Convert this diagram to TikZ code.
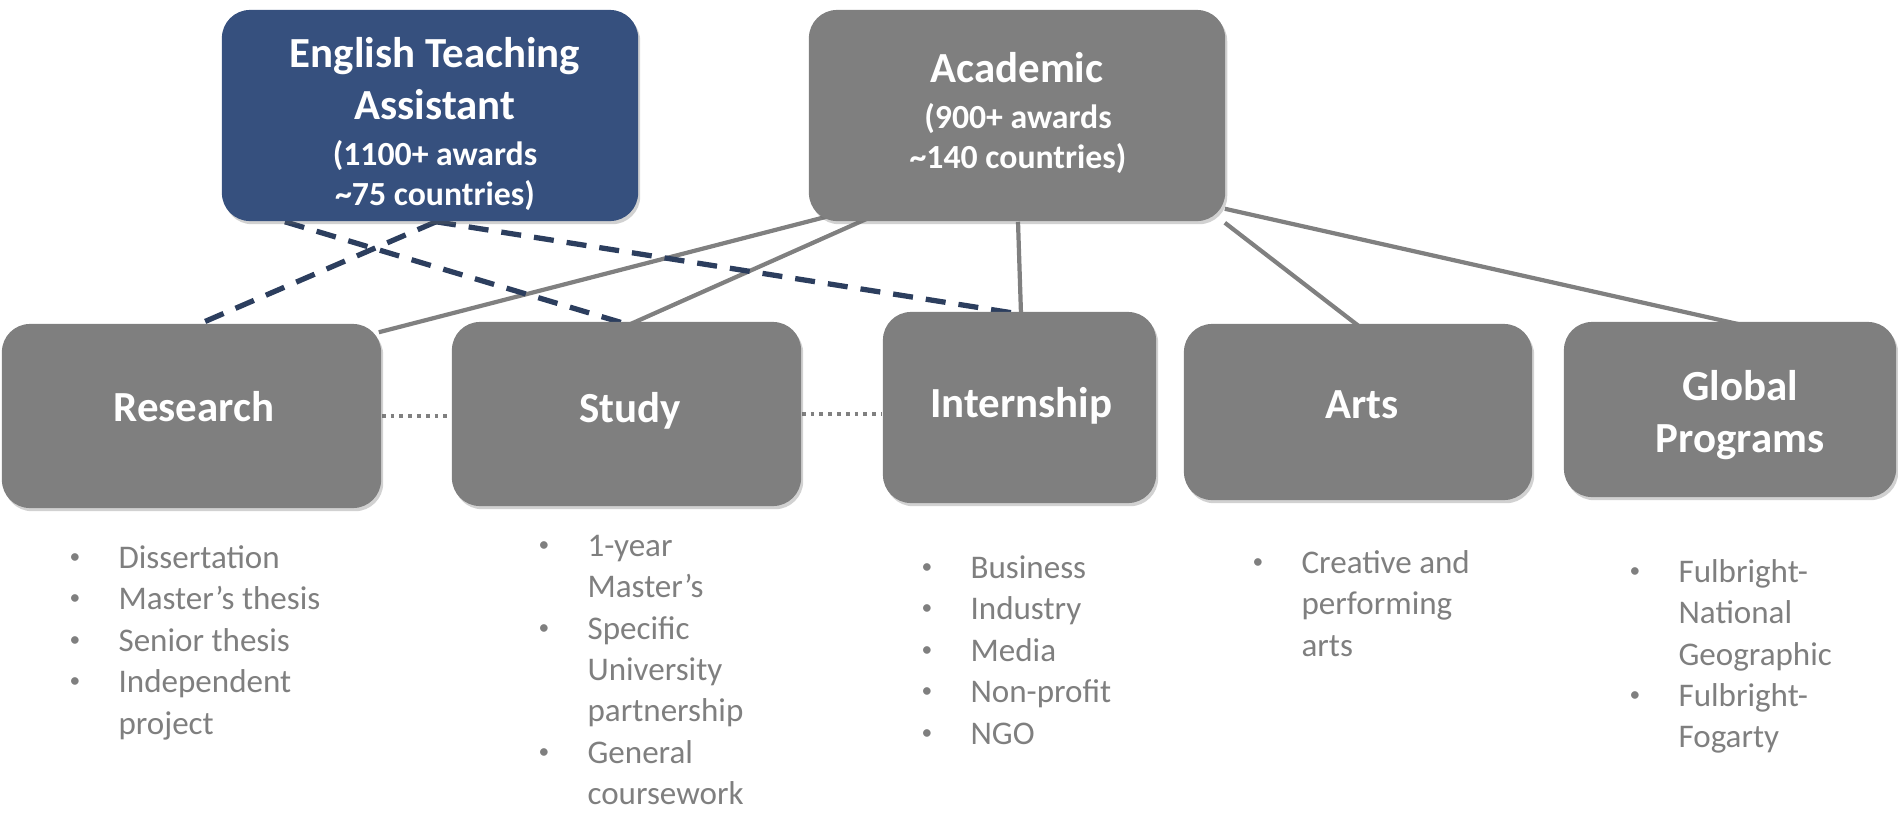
\documentclass[tikz,border=0pt]{standalone}
\usepackage{graphicx}
\usepackage{fontspec}
\setmainfont{Carlito}
\usetikzlibrary{backgrounds,shadows}
\definecolor{boxgray}{HTML}{7F7F7F}
\definecolor{etablue}{HTML}{36507E}
\definecolor{dashblue}{HTML}{2C3E5E}
\definecolor{listgray}{HTML}{7F7F7F}
\definecolor{linegray}{HTML}{808080}
\newcommand{\lsbul}{\makebox[13.9pt][l]{\raisebox{1.4pt}{\scalebox{0.65}{•}}}}
\newcommand{\lsind}{\hspace*{13.9pt}}
\tikzset{
  box/.style={rectangle, rounded corners=8pt, fill=boxgray, inner sep=0pt,
    drop shadow={shadow xshift=0.6pt, shadow yshift=-0.9pt, opacity=0.3, fill=black!60}},
  etabox/.style={box, fill=etablue},
  ttl/.style={text=white, inner sep=0pt, anchor=base, font=\bfseries\fontsize{12.2pt}{15pt}\selectfont},
  subtxt/.style={text=white, inner sep=0pt, anchor=base, font=\bfseries\fontsize{9.6pt}{11.4pt}\selectfont},
  lst/.style={text=listgray, inner sep=0pt, anchor=base west, font=\fontsize{9.4pt}{11.8pt}\selectfont},
  solidline/.style={draw=linegray, line width=1.2pt},
  dashline/.style={draw=dashblue, line width=1.5pt, dash pattern=on 5.7pt off 3.7pt},
  dotline/.style={draw=linegray, line width=1.2pt, dash pattern=on 1.1pt off 1.4pt},
}
\begin{document}
\begin{tikzpicture}[x=0.01cm,y=-0.01cm]
\useasboundingbox (0,0) rectangle (1898,812);
% boxes
\node[etabox, minimum width=4.16cm, minimum height=2.11cm] (eta) at (430,115.5) {};
\node[box, minimum width=4.16cm, minimum height=2.11cm] (acad) at (1017,115.5) {};
\node[box, minimum width=3.79cm, minimum height=1.84cm] (res) at (191.5,416) {};
\node[box, minimum width=3.49cm, minimum height=1.84cm] (stu) at (626.5,414) {};
\node[box, minimum width=2.73cm, minimum height=1.91cm] (int) at (1019.5,407.5) {};
\node[box, minimum width=3.48cm, minimum height=1.76cm] (arts) at (1358,412) {};
\node[box, minimum width=3.32cm, minimum height=1.75cm] (glob) at (1730,409.5) {};
% box texts
\node[ttl] (etat) at (435,67) {\begin{tabular}[t]{@{}c@{}}English Teaching\\Assistant\end{tabular}};
\node[subtxt] (etas) at (435,165) {\begin{tabular}[t]{@{}c@{}}(1100+ awards\\\textasciitilde75 countries)\end{tabular}};
\node[ttl] (acadt) at (1017,82) {Academic};
\node[subtxt] (acads) at (1018,128) {\begin{tabular}[t]{@{}c@{}}(900+ awards\\\textasciitilde140 countries)\end{tabular}};
\node[ttl] (rest) at (194,421) {Research};
\node[ttl] (stut) at (630,422) {Study};
\node[ttl] (intt) at (1021,417) {Internship};
\node[ttl] (artst) at (1362,418) {Arts};
\node[ttl] (globt) at (1740,400) {\begin{tabular}[t]{@{}c@{}}Global\\Programs\end{tabular}};
% lists
\node[lst] (lres) at (69,568) {\begin{tabular}[t]{@{}l@{}}\lsbul Dissertation\\\lsbul Master’s thesis\\\lsbul Senior thesis\\\lsbul Independent\\\lsind project\end{tabular}};
\node[lst] (lstu) at (538,556) {\begin{tabular}[t]{@{}l@{}}\lsbul 1-year\\\lsind Master’s\\\lsbul Specific\\\lsind University\\\lsind partnership\\\lsbul General\\\lsind coursework\end{tabular}};
\node[lst] (lint) at (921,578) {\begin{tabular}[t]{@{}l@{}}\lsbul Business\\\lsbul Industry\\\lsbul Media\\\lsbul Non-profit\\\lsbul NGO\end{tabular}};
\node[lst] (larts) at (1252,573) {\begin{tabular}[t]{@{}l@{}}\lsbul Creative and\\\lsind performing\\\lsind arts\end{tabular}};
\node[lst] (lglob) at (1629,582) {\begin{tabular}[t]{@{}l@{}}\lsbul Fulbright-\\\lsind National\\\lsind Geographic\\\lsbul Fulbright-\\\lsind Fogarty\end{tabular}};
% connectors
\begin{scope}[on background layer]
\draw[solidline] ([xshift=-1.75cm,yshift=0.09cm]acad.south) -- ([xshift=-0.03cm,yshift=-0.09cm]res.north east);
\draw[solidline] ([xshift=-1.5cm,yshift=0.03cm]acad.south) -- ([xshift=0.035cm,yshift=-0.03cm]stu.north);
\draw[solidline] ([xshift=0.01cm]acad.south) -- ([xshift=0.015cm,yshift=-0.03cm]int.north);
\draw[solidline] ([xshift=-0.01cm,yshift=-0.01cm]acad.south east) -- ([xshift=0.01cm,yshift=-0.03cm]arts.north);
\draw[solidline] ([xshift=-0.01cm,yshift=0.13cm]acad.south east) -- ([xshift=0.09cm,yshift=-0.03cm]glob.north);
\draw[dashline] ([xshift=0.06cm]eta.south) -- ([xshift=0.025cm,yshift=-0.03cm]res.north);
\draw[dashline] ([xshift=-1.45cm]eta.south) -- ([xshift=0.005cm,yshift=-0.03cm]stu.north);
\draw[dashline] ([xshift=0.06cm]eta.south) -- ([xshift=0.015cm,yshift=-0.03cm]int.north);
\draw[dotline] (res.east) -- (res.east -| stu.west);
\draw[dotline] (stu.east) -- (stu.east -| int.west);
\end{scope}
\end{tikzpicture}
\end{document}
